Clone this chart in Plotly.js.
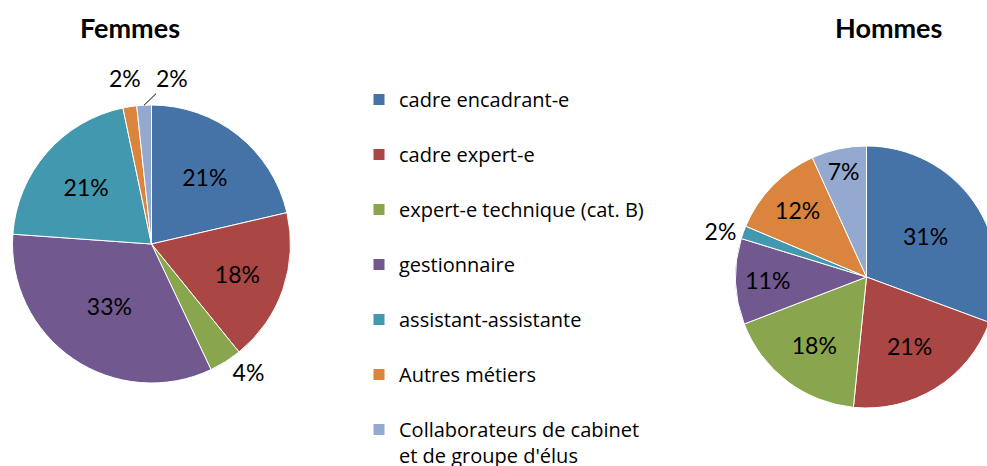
<!DOCTYPE html>
<html><head><meta charset="utf-8">
<script src="https://cdn.plot.ly/plotly-3.0.1.min.js"></script>
<style>html,body{margin:0;padding:0;overflow:hidden;background:#fff;width:987px;height:466px}#chart{width:1000px;height:466px}</style>
</head><body><div id="chart"></div>
<script>
const categories = ['cadre encadrant-e','cadre expert-e','expert-e technique (cat. B)','gestionnaire','assistant-assistante','Autres métiers',"Collaborateurs de cabinet<br>et de groupe d'élus"];
const femmesValues = [21.4, 17.8, 3.8, 33.2, 20.6, 1.6, 1.7];
const hommesValues = [30.7, 21.0, 17.6, 10.6, 1.6, 11.9, 6.8];
const colors = ['#4572A7','#AA4643','#89A54E','#71588F','#4198AF','#DB843D','#93A9CF'];
const femmesPos = ['inside','inside','outside','inside','inside','none','none'];
const hommesPos = ['inside','inside','inside','inside','outside','inside','inside'];

const W = 1000, H = 466;
const px = v => v / W, py = v => 1 - v / H;
const labels = categories.map(c => c.includes('<br>') ? c : c + '<br> ');
const font = 'Lato, "Open Sans", sans-serif';
const legendFont = '"Open Sans", Lato, sans-serif';

const F = {cx: 151.5, cy: 244, r: 139};
const M = {cx: 866.5, cy: 277, r: 131};

function pieTrace(values, pos, g, showlegend) {
  return {
    type: 'pie', labels: labels, values: values, sort: false,
    direction: 'clockwise', rotation: 0,
    marker: {colors: colors, line: {color: '#fff', width: 1}},
    texttemplate: '%{percent:.0%}', textposition: pos,
    insidetextorientation: 'horizontal',
    textfont: {family: font, size: 23, color: '#000'},
    insidetextfont: {family: font, size: 23, color: '#000'},
    outsidetextfont: {family: font, size: 23, color: '#000'},
    domain: {x: [px(g.cx - g.r), px(g.cx + g.r)], y: [py(g.cy + g.r), py(g.cy - g.r)]},
    showlegend: showlegend, hoverinfo: 'label+percent'
  };
}

// labels for the two thin top slices of the Femmes pie, placed from the data angles
function sliceLabel(values, i, g, R, ax, ay) {
  const total = values.reduce((a, b) => a + b, 0);
  const before = values.slice(0, i).reduce((a, b) => a + b, 0);
  const th = (before + values[i] / 2) / total * 2 * Math.PI;
  const txt = Math.round(values[i] / total * 100) + '%';
  const base = {text: txt, xref: 'paper', yref: 'paper', font: {family: font, size: 23, color: '#000'}};
  if (ax === undefined) {
    return Object.assign(base, {x: px(g.cx + R * Math.sin(th)), y: py(g.cy - R * Math.cos(th)),
      xanchor: 'center', yanchor: 'middle', showarrow: false});
  }
  return Object.assign(base, {x: px(g.cx + g.r * Math.sin(th)), y: py(g.cy - g.r * Math.cos(th)),
    showarrow: true, ax: ax, ay: ay, arrowhead: 0, arrowwidth: 1, arrowcolor: '#000', standoff: 0});
}

const data = [
  pieTrace(femmesValues, femmesPos, F, true),
  pieTrace(hommesValues, hommesPos, M, false)
];

const layout = {
  width: W, height: H, margin: {l: 0, r: 0, t: 0, b: 0, autoexpand: false},
  paper_bgcolor: '#fff', plot_bgcolor: '#fff',
  font: {family: font, color: '#000'},
  showlegend: true,
  legend: {x: px(359), xanchor: 'left', y: py(80), yanchor: 'top',
    font: {family: legendFont, size: 20, color: '#000'}, valign: 'top',
    bgcolor: 'rgba(0,0,0,0)', traceorder: 'normal'},
  annotations: [
    {text: '<b>Femmes</b>', x: px(129.5), y: py(28), xref: 'paper', yref: 'paper', xanchor: 'center', yanchor: 'middle', showarrow: false, font: {family: font, size: 27, color: '#000'}},
    {text: '<b>Hommes</b>', x: px(888), y: py(28), xref: 'paper', yref: 'paper', xanchor: 'center', yanchor: 'middle', showarrow: false, font: {family: font, size: 27, color: '#000'}},
    sliceLabel(femmesValues, 5, F, 168),
    sliceLabel(femmesValues, 6, F, 168, 28, -27)
  ]
};

Plotly.newPlot('chart', data, layout, {displayModeBar: false, staticPlot: true});
</script></body></html>
